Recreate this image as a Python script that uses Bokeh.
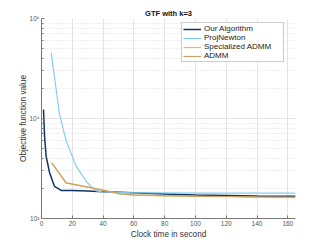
from bokeh.plotting import figure
from bokeh.models import Range1d, FixedTicker, Legend, LegendItem
from bokeh.embed import file_html
from bokeh.resources import INLINE

# ---- data ----
ours_t = [1.3, 2.0, 3.0, 5.2, 8.4, 12.8, 20, 30, 40, 60, 80, 100, 120, 140, 165]
ours_v = [12300, 6600, 4200, 2890, 2100, 1910, 1900, 1880, 1850, 1806, 1760, 1720, 1698, 1680, 1665]

pn_t = [6.3, 11.7, 16, 22.5, 29, 32, 35.5, 40, 60, 80, 100, 120, 140, 165]
pn_v = [45400, 11000, 6000, 3340, 2360, 2100, 1890, 1840, 1810, 1800, 1795, 1792, 1790, 1790]

sadmm_t = [6.7, 16, 40, 51, 60, 80, 100, 120, 140, 165]
sadmm_v = [3600, 2270, 1920, 1760, 1715, 1685, 1665, 1650, 1625, 1615]

admm_t = [6.7, 16, 40, 51, 60, 80, 100, 120, 140, 165]
admm_v = [3600, 2270, 1920, 1760, 1725, 1695, 1675, 1660, 1650, 1640]

series_names = ["Our Algorithm", "ProjNewton", "Specialized ADMM", "ADMM"]
x_ticks = [0, 20, 40, 60, 80, 100, 120, 140, 160]
y_ticks = [1e3, 1e4, 1e5]
y_tick_labels = {1000: "10\u00b3", 10000: "10\u2074", 100000: "10\u2075"}
title_text = "GTF with k=3"
x_label = "Clock time in second"
y_label = "Objective function value"

colors = ["#0e3466", "#84cfee", "#f4bd3f", "#c9a066"]
FONT = "Liberation Sans"

p = figure(width=326, height=244, output_backend="svg", toolbar_location=None,
           y_axis_type="log", x_range=Range1d(0, 165), y_range=Range1d(1e3, 1e5),
           min_border_left=41, min_border_right=31, min_border_top=18, min_border_bottom=26)
p.outline_line_color = None
p.background_fill_color = "white"
p.border_fill_color = "white"

p.title.text = title_text
p.title.align = "center"
p.title.text_font = FONT
p.title.text_font_size = "7.5px"
p.title.text_font_style = "bold"
p.title.text_color = "#111111"
p.title.standoff = 1
p.title.offset = 0

minor = [k * 10 ** n for n in (3, 4) for k in range(2, 10)]
p.yaxis.ticker = FixedTicker(ticks=y_ticks, minor_ticks=minor)
p.yaxis.major_label_overrides = y_tick_labels
p.xaxis.ticker = FixedTicker(ticks=x_ticks, minor_ticks=[])

for ax in (p.xaxis[0], p.yaxis[0]):
    ax.axis_line_color = "#7a7a7a"
    ax.major_tick_line_color = "#7a7a7a"
    ax.minor_tick_line_color = "#7a7a7a"
    ax.major_tick_in = 3
    ax.major_tick_out = 0
    ax.minor_tick_in = 2
    ax.minor_tick_out = 0
    ax.major_label_text_font = FONT
    ax.major_label_text_font_size = "6.5px"
    ax.major_label_text_color = "#555555"
    ax.major_label_standoff = 2
    ax.axis_label_text_font = FONT
    ax.axis_label_text_font_size = "8.2px"
    ax.axis_label_text_font_style = "normal"
    ax.axis_label_text_color = "#333333"

p.xaxis.axis_label = x_label
p.yaxis.axis_label = y_label
p.xaxis.major_label_standoff = 2
p.xaxis.axis_label_standoff = 1
p.yaxis.axis_label_standoff = -2

p.xgrid.grid_line_color = "#e4e4e4"
p.ygrid.grid_line_color = "#e4e4e4"
p.ygrid.minor_grid_line_color = "#dcdcdc"
p.ygrid.minor_grid_line_dash = "1 2"

r1 = p.line(ours_t, ours_v, line_color=colors[0], line_width=1.5)
r2 = p.line(pn_t, pn_v, line_color=colors[1], line_width=1.2)
r3 = p.line(sadmm_t, sadmm_v, line_color=colors[2], line_width=1.2)
r4 = p.line(admm_t, admm_v, line_color=colors[3], line_width=1.2)

legend = Legend(items=[LegendItem(label=n, renderers=[r]) for n, r in zip(series_names, [r1, r2, r3, r4])],
                location=(140, 156), label_text_font=FONT, label_text_font_size="8px",
                label_height=8, glyph_height=8, glyph_width=18, spacing=0, padding=1,
                margin=0, label_standoff=3, label_width=78, border_line_color="#999999",
                background_fill_alpha=1.0, label_text_color="#222222")
p.add_layout(legend, "center")

open("out.html", "w").write(file_html(p, INLINE))
